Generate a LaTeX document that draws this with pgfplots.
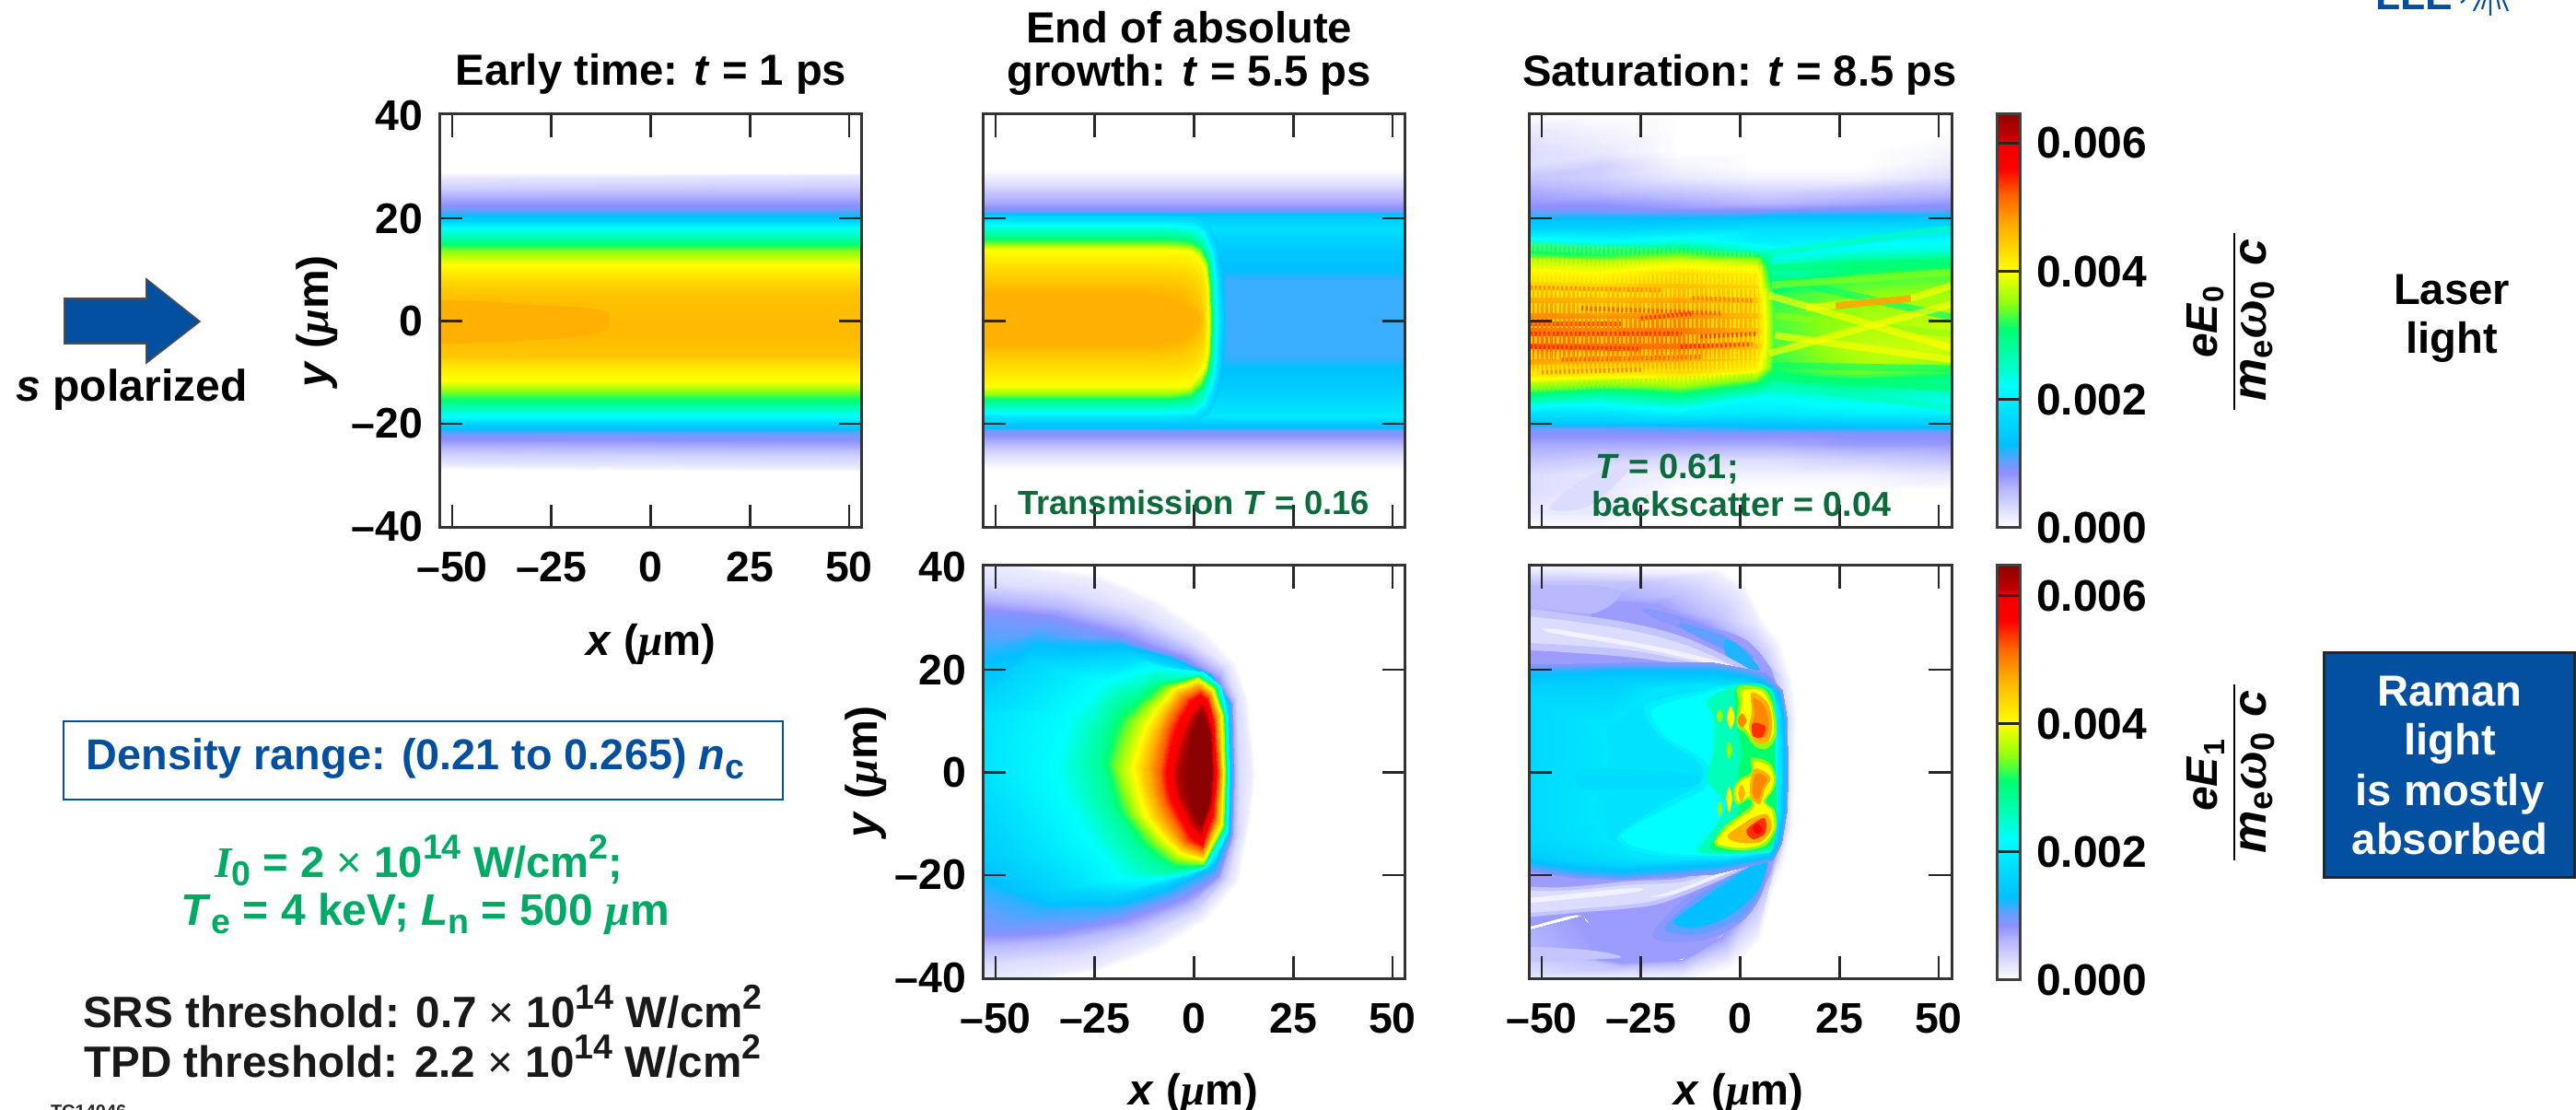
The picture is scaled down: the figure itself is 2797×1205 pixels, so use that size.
\documentclass[border=0pt]{standalone}
\usepackage{fontspec}
\setmainfont{Liberation Sans}
\newfontfamily\gk{Liberation Serif}
\usepackage{pgfplots}
\pgfplotsset{compat=1.18}
\newcommand{\fs}[1]{\bfseries\fontsize{#1}{#1}\selectfont}
\newcommand{\um}{{\gk\bfseries\itshape μ}m}
\newcommand{\sps}[1]{\raisebox{.42em}{\fontsize{9.4}{9}\selectfont #1}}
\newcommand{\sbs}[1]{\raisebox{-.2em}{\fontsize{9.4}{9}\selectfont #1}}
\definecolor{c1}{HTML}{F2F2FF}\definecolor{c3}{HTML}{DCDCFF}\definecolor{c5}{HTML}{C4C4FF}
\definecolor{c6}{HTML}{B8B8FF}\definecolor{c8}{HTML}{9C9CFF}\definecolor{c9}{HTML}{8898FF}
\definecolor{c10}{HTML}{60A0FF}\definecolor{c12}{HTML}{20B4FF}\definecolor{c13}{HTML}{00C0FF}
\definecolor{c16}{HTML}{00D4FF}\definecolor{c18}{HTML}{00DCFF}\definecolor{c19}{HTML}{00E4FF}\definecolor{c20}{HTML}{00F0FF}\definecolor{c22}{HTML}{00FFFF}
\definecolor{c26}{HTML}{00FFB8}\definecolor{c28}{HTML}{00FF98}\definecolor{c31}{HTML}{00FF70}
\definecolor{c35}{HTML}{90FF10}\definecolor{c40}{HTML}{FFFF00}\definecolor{c43}{HTML}{FFE000}
\definecolor{c45}{HTML}{FFC800}\definecolor{c47}{HTML}{FFB000}\definecolor{c50}{HTML}{FF8800}
\definecolor{c52}{HTML}{FF6000}\definecolor{c54}{HTML}{FF3000}\definecolor{c57}{HTML}{FF0000}
\definecolor{c62}{HTML}{BB0000}\definecolor{c65}{HTML}{8B0000}
\definecolor{lleblue}{HTML}{0450A0}\definecolor{dkgreen}{HTML}{0B6B3A}\definecolor{grn}{HTML}{00A964}
\pgfplotsset{
 colormap={lle}{rgb255(0pt)=(255,255,255);rgb255(30pt)=(220,220,255);rgb255(60pt)=(184,184,255);
 rgb255(85pt)=(144,144,255);rgb255(105pt)=(96,160,255);rgb255(130pt)=(0,192,255);rgb255(180pt)=(0,224,255);
 rgb255(220pt)=(0,255,255);rgb255(260pt)=(0,255,184);rgb255(310pt)=(0,255,112);rgb255(350pt)=(144,255,16);
 rgb255(400pt)=(255,255,0);rgb255(470pt)=(255,176,0);rgb255(520pt)=(255,96,0);rgb255(560pt)=(255,0,0);
 rgb255(600pt)=(240,0,0);rgb255(610pt)=(192,0,0);rgb255(650pt)=(139,0,0)},
 colormap name=lle,
 panel/.style={scale only axis,width=114.75pt,height=112.25pt,anchor=south west,
  xmin=-53.25,xmax=53.25,ymin=-40.3,ymax=40.3,axis on top,
  point meta min=0,point meta max=65,
  xtick={-50,-25,0,25,50},ytick={-20,0,20},extra y ticks={-40,40},
  extra y tick style={major tick length=0pt},
  tick align=inside,major tick length=6.3pt,
  tick style={color=black!85,line width=.7pt},
  axis line style={color=black!80,line width=.75pt},
  tick label style={font=\fs{11.6}},
  xticklabel style={yshift=-3pt},yticklabel style={xshift=-1pt}},
 noxl/.style={xticklabels={}},noyl/.style={yticklabels={},extra y tick labels={}},
 xl/.style={xticklabels={–50,–25,0,25,50}},yl/.style={yticklabels={–20,0,20},extra y tick labels={–40,40}},
 base/.style={surf,shader=interp,point meta=explicit,mesh/cols=#1,forget plot},
 cbar/.style={scale only axis,width=6.25pt,anchor=south west,xmin=0,xmax=1,ymin=0,
  point meta min=0,point meta max=65,axis on top,xtick=\empty,
  ytick={0,20,40,60},yticklabels={0.000,0.002,0.004,0.006},ytick pos=right,yticklabel pos=right,
  tick align=inside,major tick length=6.25pt,tick style={color=black!85,line width=.7pt},
  axis line style={color=black!75,line width=.75pt},
  tick label style={font=\fs{12}},yticklabel style={xshift=1pt}}}
\newcommand{\blob}[2]{\addplot[draw=none,fill=#1,smooth cycle,tension=0.55,forget plot] coordinates {#2};}
\newcommand{\poly}[2]{\addplot[draw=none,fill=#1,forget plot] coordinates {#2} --cycle;}
\newcommand{\beam}[2]{\addplot[draw=#1,line width=1.9pt,opacity=.65,forget plot] coordinates {#2};}
\newcommand{\rip}[3]{\addplot[draw=#1,line width=#2,opacity=.6,dash pattern=on .55pt off .65pt,forget plot] coordinates {#3};}
\begin{document}
\begin{tikzpicture}[x=0.25pt,y=-0.25pt]
\useasboundingbox (0,0) rectangle (2797,1205);
% ---------- panel 1
\begin{axis}[panel,xl,yl,at={(119.25pt,-143.25pt)}]
\addplot[base=2] table[meta index=2] {
-54 40.3 0
54 40.3 0
-54 29 0
54 29 0
-54 28 2
54 28.4 2
-54 26 4
54 26.3 4
-54 24.7 6
54 24.9 6
-54 23 8
54 23 8
-54 22 9.5
54 22 9.5
-54 21 12
54 21 12
-54 20.6 13
54 20.6 13
-54 19.5 16
54 19.5 16
-54 18.2 22
54 18.2 22
-54 16.5 26
54 16.5 26
-54 14.9 31
54 14.9 31
-54 13.5 35
54 13.5 35
-54 11.1 40
54 11.1 40
-54 9 42
54 9 42
-54 7 44
54 7 44
-54 5 45.5
54 5 45.5
-54 0 46
54 0 46
-54 -3 46
54 -3 46
-54 -7 45
54 -7 45
-54 -8.2 43
54 -8.2 43
-54 -10 41
54 -10 41
-54 -11.5 40
54 -11.5 40
-54 -12.8 37
54 -12.8 37
-54 -14 34
54 -14 34
-54 -15.3 31
54 -15.3 31
-54 -17 26
54 -17 26
-54 -18.5 22
54 -18.5 22
-54 -20 16
54 -20 16
-54 -21 13
54 -21 13
-54 -22 10
54 -22 10
-54 -23 8.5
54 -23.2 8.5
-54 -24.7 6
54 -25 6
-54 -26 4
54 -26.3 4
-54 -28 2
54 -28.4 2
-54 -29 0
54 -29.4 0
-54 -40.3 0
54 -40.3 0
};
\blob{c47}{(-60,3.7)(-25,3)(-12,2)(-10.5,0)(-12,-2)(-25,-3.5)(-60,-4)}
\end{axis}
% ---------- panel 2
\begin{axis}[panel,noxl,noyl,at={(266.75pt,-143.25pt)}]
\addplot[base=2] table[meta index=2] {
-54 40.3 0
54 40.3 0
-54 29.5 0
54 29.5 0
-54 28.7 1
54 28.7 1
-54 26.5 3
54 26.5 3
-54 25 5
54 25 5
-54 23 7
54 23 7
-54 21.8 9
54 21.8 9
-54 21.4 10
54 21.4 10
-54 21 13
54 21 13
-54 19.5 16
54 19.5 16
-54 18 18
54 18 18
-54 16 16
54 16 16
-54 14 14
54 14 14
-54 10 13
54 10 13
-54 8 11.5
54 8 11.5
-54 0 11.5
54 0 11.5
-54 -7 11.5
54 -7 11.5
-54 -9 13
54 -9 13
-54 -13 15
54 -13 15
-54 -16 17.5
54 -16 17.5
-54 -18.5 19
54 -18.5 19
-54 -19.5 16
54 -19.5 16
-54 -20.7 13
54 -20.7 13
-54 -21.2 10
54 -21.2 10
-54 -22 9
54 -22 9
-54 -24 6
54 -24 6
-54 -26 3
54 -26 3
-54 -28 1
54 -28 1
-54 -29 0
54 -29 0
-54 -40.3 0
54 -40.3 0
};
\poly{c47}{(-56,8.5)(-8,8.5)(-3,8)(0,6.5)(1.6,4)(2.1,2)(2.4,0)(2.1,-1.5)(2,-3)(0,-5.5)(-3,-6.5)(-8,-7)(-56,-7)}
\addplot[base=13] table[meta index=2] {
-56 20.6 16
-8 20.6 16
0 20.3 16
3.5 19 16
6 15 14
7.5 8 12
8 0 12
7.5 -8 12
6 -14 14
3.5 -18 16
0 -19.5 16
-8 -19.6 16
-56 -19.6 16
-56 19.7 18
-8 19.7 18
0 19.4 18
3 18 18
5 14 18
6 8 18
6.4 0 18
6 -8 18
5 -13 18
3 -17 18
0 -18.6 18
-8 -18.7 18
-56 -18.7 18
-56 18.8 22
-8 18.8 22
0 18.4 22
2.5 17 22
4.6 13 22
5.4 7 22
5.6 0 22
5.4 -7 22
4.6 -12 22
2.5 -16 22
0 -17.7 22
-8 -17.8 22
-56 -17.8 22
-56 16.8 28
-6 16.8 28
-1 16.4 28
2 15 28
3.8 12 28
4.5 6 28
4.7 0 28
4.5 -6 28
3.8 -10 28
2 -13.5 28
-1 -15.5 28
-6 -15.8 28
-56 -15.8 28
-56 15 35
-6 15 35
-1 14.6 35
1.5 13.5 35
3.2 11 35
3.9 6 35
4 0 35
3.9 -6 35
3.2 -9.5 35
1.5 -12 35
-1 -13.8 35
-6 -14.2 35
-56 -14.2 35
-56 14 40
-6 14 40
-1 13.6 40
1 12.5 40
2.8 10 40
3.4 6 40
3.5 0 40
3.4 -5 40
2.8 -8.5 40
1 -10.5 40
-1 -12.4 40
-6 -12.6 40
-56 -12.6 40
-56 11 42.5
-6 11 42.5
-1 10.5 42.5
1.5 9 42.5
2.6 6 42.5
2.9 3 42.5
3 0 42.5
2.9 -2.5 42.5
2.6 -5 42.5
1.5 -7.5 42.5
-1 -9 42.5
-6 -9.6 42.5
-56 -9.6 42.5
-56 8.5 44.5
-8 8.5 44.5
-3 8 44.5
0 6.5 44.5
1.6 4 44.5
2.1 2 44.5
2.4 0 44.5
2.1 -1.5 44.5
2 -3 44.5
0 -5.5 44.5
-3 -6.5 44.5
-8 -7 44.5
-56 -7 44.5
-56 5 47
-12 5 47
-5 4 47
-2 2.5 47
0 1.5 47
.7 .8 47
1 0 47
.7 -.8 47
0 -1.5 47
-2 -2.5 47
-5 -3.5 47
-12 -4.5 47
-56 -4.5 47
};
\end{axis}
% ---------- panel 3
\begin{axis}[panel,noxl,noyl,at={(415pt,-143.25pt)}]
\addplot[base=7] table[meta index=2] {
-54 40.3 0
-35 40.3 0
-15 40.3 0
4 40.3 0
8.5 40.3 0
30 40.3 0
54 40.3 0
-54 37 2
-35 37 1
-15 37 0
4 37 0
8.5 37 0
30 37 0
54 37 0
-54 33 3
-35 33 2
-15 33 0
4 33 0
8.5 33 0
30 33 0
54 33 1
-54 30 3
-35 30 4
-15 30 1
4 30 0
8.5 30 0
30 30 0
54 30 2
-54 28 5
-35 28 4
-15 28 2
4 28 1
8.5 28 1
30 28 1
54 28 3
-54 25 7
-35 25 6
-15 25 5
4 25 4
8.5 25 4
30 25 5
54 25 6
-54 23 8
-35 23 8
-15 23 7
4 23 6
8.5 23 6
30 23 7
54 23 8
-54 22 9
-35 22 9
-15 22 8
4 22 8
8.5 22 8
30 22 9
54 22 9
-54 21 11
-35 21 11
-15 21 11
4 21 11
8.5 21 12
30 21 12
54 21 12
-54 20 13
-35 20 13
-15 20 13
4 20 14
8.5 20 14
30 20 14
54 20 14
-54 18 16
-35 18 16
-15 18 17
4 18 18
8.5 18 18
30 18 18
54 18 18
-54 15.5 24
-35 15.5 22
-15 15.5 24
4 15.5 20
8.5 15.5 20
30 15.5 21
54 15.5 22
-54 14 30
-35 14 28
-15 14 30
4 14 24
8.5 14 22
30 14 23
54 14 24
-54 12 36
-35 12 35
-15 12 38
4 12 36
8.5 12 24
30 12 28
54 12 30
-54 9 42
-35 9 41
-15 9 44
4 9 42
8.5 9 27
30 9 32
54 9 33
-54 5 47
-35 5 46
-15 5 47
4 5 45
8.5 5 32
30 5 35
54 5 36
-54 0 50
-35 0 49
-15 0 50
4 0 46
8.5 0 33
30 0 36
54 0 37
-54 -5 52
-35 -5 51
-15 -5 51
4 -5 46
8.5 -5 33
30 -5 37
54 -5 38
-54 -9 46
-35 -9 46
-15 -9 46
4 -9 42
8.5 -9 32
30 -9 36
54 -9 34
-54 -12 38
-35 -12 36
-15 -12 38
4 -12 32
8.5 -12 28
30 -12 30
54 -12 28
-54 -15 28
-35 -15 25
-15 -15 28
4 -15 22
8.5 -15 22
30 -15 24
54 -15 24
-54 -18 18
-35 -18 18
-15 -18 20
4 -18 19
8.5 -18 19
30 -18 20
54 -18 20
-54 -20 14
-35 -20 14
-15 -20 14
4 -20 14
8.5 -20 14
30 -20 15
54 -20 15
-54 -21 10
-35 -21 10
-15 -21 11
4 -21 12
8.5 -21 12
30 -21 12
54 -21 12
-54 -22 9
-35 -22 9
-15 -22 9
4 -22 9
8.5 -22 9
30 -22 9
54 -22 9
-54 -24 7
-35 -24 7
-15 -24 7
4 -24 7
8.5 -24 7
30 -24 8
54 -24 8
-54 -27 5
-35 -27 4
-15 -27 3
4 -27 3
8.5 -27 3
30 -27 4
54 -27 5
-54 -30 3
-35 -30 2
-15 -30 1
4 -30 1
8.5 -30 1
30 -30 1
54 -30 2
-54 -33 3
-35 -33 2
-15 -33 0
4 -33 0
8.5 -33 0
30 -33 0
54 -33 0
-54 -37 2
-35 -37 2
-15 -37 0
4 -37 0
8.5 -37 0
30 -37 0
54 -37 0
-54 -40.3 0
-35 -40.3 0
-15 -40.3 0
4 -40.3 0
8.5 -40.3 0
30 -40.3 0
54 -40.3 0
};
\blob{c3}{(-48,-36.5)(-40,-31)(-30,-27.5)(-28,-29)(-38,-36)}
\beam{c26}{(5,13)(53,18)}
\beam{c26}{(8,-12.3)(53,-17)}
\beam{c31}{(8,10.4)(53,11.6)}
\beam{c31}{(7.3,8.6)(53,0.8)}
\beam{c31}{(8,-8.7)(53,-9.3)}
\beam{c31}{(8,-11)(53,-13)}
\beam{c35}{(8,7)(53,9.5)}
\beam{c35}{(9,1)(53,-2.5)}
\beam{c40}{(7.3,5)(53,-5.2)}
\beam{c40}{(16.6,2.6)(42.9,4.4)(53,6.8)}
\beam{c40}{(7.3,-6.3)(53,3.2)}
\beam{c40}{(8.8,-2.8)(53,-7.5)}
\beam{c50}{(24,3)(43,4.4)}
\rip{c35}{2.4pt}{(-54,14.5)(4,12.5)}
\rip{c40}{2.6pt}{(-54,11.5)(6,10)}
\rip{c40}{2.6pt}{(-54,8.5)(6,8)}
\rip{c40}{2.6pt}{(-54,5.5)(7,5.5)}
\rip{c40}{2.6pt}{(-54,2.5)(7,2.5)}
\rip{c40}{2.6pt}{(-54,-.5)(7,-.5)}
\rip{c40}{2.6pt}{(-54,-3.5)(7,-3.5)}
\rip{c40}{2.6pt}{(-54,-6.5)(7,-6.5)}
\rip{c40}{2.6pt}{(-54,-9.5)(6,-8.5)}
\rip{c35}{2.4pt}{(-54,-13)(4,-11)}
\rip{c52}{1.2pt}{(-54,6.5)(-20,6)}
\rip{c52}{1.2pt}{(-12,4.5)(3,4)}
\rip{c54}{1.2pt}{(-40,2.5)(-5,1.5)}
\rip{c57}{1.2pt}{(-54,-.5)(-30,-.5)}
\rip{c57}{1.2pt}{(-25,.5)(-12,1.5)}
\rip{c57}{1.2pt}{(-54,-2.5)(-15,-2.5)}
\rip{c57}{1.2pt}{(-10,-3)(4,-2.5)}
\rip{c57}{1.2pt}{(-54,-5)(-25,-5.5)}
\rip{c57}{1.2pt}{(-15,-5)(3,-4.5)}
\rip{c54}{1.2pt}{(-45,-7.5)(-10,-7)}
\rip{c52}{1.2pt}{(-50,-10)(-25,-9.5)}
\end{axis}
% ---------- panel 4
\begin{axis}[panel,xl,yl,at={(266.75pt,-265.75pt)}]
\poly{c65}{(-4.8,.3)(-2.7,6.6)(-.4,10.8)(1.9,13)(4.3,8)(4.8,0)(4.2,-6)(1.6,-11.7)(-.9,-9.6)(-3.9,-4.6)}
\addplot[base=17] table[meta index=2] {
-65 0 0
-65 43 0
-50 41.5 0
-23.5 38.6 0
-9 33.7 0
3.5 27.2 0
10.5 21.5 0
13.5 14.8 0
15.4 0 0
14.3 -9.2 0
11.3 -21.3 0
3.3 -28.8 0
-9 -34.5 0
-23.5 -38.7 0
-46 -41.4 0
-65 -43 0
-65 0 0
-65 0 1.5
-65 42 1.5
-50.9 40.5 1.5
-24.3 37.6 1.5
-10.1 32.7 1.5
2.3 26.3 1.5
9.4 20.7 1.5
12.6 14.4 1.5
14.4 0 1.5
13.3 -8.9 1.5
10.3 -20.8 1.5
2.3 -27.9 1.5
-10.1 -33.5 1.5
-24.3 -37.7 1.5
-47.3 -40.4 1.5
-65 -42 1.5
-65 0 1.5
-65 0 3
-65 37 3
-53 36.9 3
-33 35.5 3
-15.4 31.3 3
-1.2 25.6 3
7.6 20.7 3
10.8 14.4 3
11.5 0 3
11.2 -11.7 3
8.5 -20.8 3
.5 -27.2 3
-13.6 -32.1 3
-29.6 -35.6 3
-53 -37.4 3
-65 -37.5 3
-65 0 3
-65 0 6
-65 34 6
-53 34 6
-33 32.3 6
-15.4 28.5 6
-1.2 23.5 6
6.7 19.3 6
9.8 13.7 6
10.3 0 6
9.8 -12.4 6
6.7 -20.8 6
-1.2 -25.8 6
-15.4 -30 6
-33 -32.8 6
-53 -33.9 6
-65 -34 6
-65 0 6
-65 0 9
-65 31.3 9
-53 31.3 9
-36.7 30.2 9
-19 26.7 9
-3 22.1 9
5.9 17.9 9
9.4 13 9
9.8 0 9
9.4 -11.7 9
5.9 -20.1 9
-3 -24.4 9
-19 -28.6 9
-36.7 -31 9
-53 -31.4 9
-65 -31.4 9
-65 0 9
-65 0 12
-65 21 12
-53 23.5 12
-40 26 12
-19 25.3 12
-6.6 22.8 12
4.1 19.3 12
9 13.7 12
9.4 0 12
9 -11.7 12
5 -18.7 12
-6.6 -23.3 12
-19 -26.1 12
-38 -26.5 12
-53 -22.3 12
-65 -18 12
-65 0 12
-65 3 16
-65 12 16
-53 15 16
-42 21.4 16
-15.4 22.8 16
-1.2 20 16
6.7 16.5 16
8.7 10.8 16
9 0 16
8.7 -11 16
5 -17.3 16
-6.6 -21.5 16
-20.7 -24 16
-35 -23 16
-47.3 -16 16
-53 -10 16
-65 3 16
-35 1 22
-31.4 10.8 22
-26 15 22
-22.5 17.9 22
-10 20.7 22
2.3 19.6 22
6.5 17 22
8.3 11 22
8.7 0 22
8.3 -11.5 22
3 -18.5 22
-8.3 -20.8 22
-19 -20.5 22
-24 -15.5 22
-27.8 -11.7 22
-33 -4.6 22
-35 1 22
-24.3 2.4 28
-22.5 8 28
-20.7 11.5 28
-16 14.5 28
-10 17.5 28
.5 18.9 28
5.5 17 28
7.8 11 28
8.2 0 28
7.8 -10.5 28
2.5 -18.3 28
-6 -19 28
-12 -16 28
-15 -14 28
-18 -10.5 28
-20.7 -7.5 28
-24.3 2.4 28
-19.3 1 35
-17.5 6 35
-15.4 10 35
-12 13 35
-6.5 16.8 35
.9 18.5 35
5 16.5 35
7.2 11 35
7.8 0 35
7.2 -10.5 35
2.5 -17.7 35
-4.5 -17 35
-9.5 -14 35
-12 -11.5 35
-15.4 -8.2 35
-17.5 -4 35
-19.3 1 35
-15.4 1 40
-14 5 40
-11.9 9.4 40
-9.5 12.5 40
-5 16.4 40
1 18 40
4.5 16.2 40
6.8 11 40
7.4 0 40
6.8 -10 40
2.5 -17 40
-3.5 -15.7 40
-8 -12.5 40
-10 -10.5 40
-11.9 -8.9 40
-14 -4 40
-15.4 1 40
-11.5 1 47
-10.5 4.5 47
-9.2 8 47
-7 11.5 47
-3.8 15.4 47
1.1 17.2 47
4 15.6 47
6 11 47
6.9 0 47
6 -9.5 47
2.2 -16 47
-3 -14.5 47
-6 -11.5 47
-7.8 -9.5 47
-9.2 -7.5 47
-10.7 -3.5 47
-11.5 1 47
-8.7 .3 52
-7.8 4.5 52
-6.6 8.7 52
-4.8 11.5 52
-2 14.6 52
1.4 16.1 52
3.6 14.8 52
5.3 10.5 52
6.2 0 52
5.3 -9 52
2.2 -15 52
-2 -13.5 52
-4 -10.5 52
-5.7 -8.5 52
-7.4 -6 52
-8.2 -3 52
-8.7 .3 52
-6.6 .3 57
-5.6 4 57
-4.4 8 57
-3 10.5 57
-.8 13.8 57
1.6 15 57
3.3 13.8 57
4.7 9.5 57
5.5 0 57
4.6 -8 57
2.2 -14 57
-1 -12 57
-3 -9 57
-4.3 -7 57
-5.7 -4.6 57
-6.3 -2 57
-6.6 .3 57
-4.8 .3 61
-3.8 3.5 61
-2.7 6.6 61
-1.5 9 61
-.4 10.8 61
1.9 13 61
3 12 61
4.3 8 61
4.8 0 61
4.2 -6 61
1.6 -11.7 61
-.9 -9.6 61
-2 -7.5 61
-3 -6 61
-3.9 -4.6 61
-4.5 -2 61
-4.8 .3 61
-2.1 .3 65
-1.5 3.5 65
-.7 6.6 65
.2 9 65
.8 10.5 65
1.4 11.5 65
3 9 65
4.1 6.6 65
4.4 0 65
3.7 -6 65
2.6 -8.5 65
1.6 -10.3 65
.5 -8.5 65
-.4 -6.8 65
-1.2 -4 65
-1.8 -2 65
-2.1 .3 65
};
\end{axis}
% ---------- panel 5
\begin{axis}[panel,xl,noyl,at={(415pt,-265.75pt)}]
\addplot[base=18] table[meta index=2] {
-65 41 0
-45 41 0
-18 40.5 0
-5.5 40 0
1.5 36.5 0
5.4 30.5 0
10 25.5 0
13 18 0
14.2 10.6 0
13.9 0 0
13.4 -10.8 0
11.5 -17 0
8.4 -23 0
5.3 -32.5 0
-1.8 -38 0
-14 -40.8 0
-40 -41.5 0
-65 -41.5 0
-65 39.5 1.5
-45 39.5 1.5
-18 38.9 1.5
-6.7 38.9 1.5
.3 35.6 1.5
4.2 29.6 1.5
8.8 24.8 1.5
11.9 17.6 1.5
13.1 10.4 1.5
12.7 0 1.5
12.3 -10.5 1.5
10.4 -16.5 1.5
7.3 -22.5 1.5
4.2 -31.5 1.5
-2.8 -36.9 1.5
-14.4 -39.6 1.5
-40 -40.2 1.5
-65 -40.2 1.5
-65 37 5
-40 37 5
-25 37 5
-14.4 35 5
-5 30 5
2.6 25.4 5
5.5 22.7 5
8 20 5
10.8 13.4 5
11.1 0 5
10.8 -11 5
9.5 -15.5 5
8 -19.5 5
3.4 -26.7 5
-3.6 -33.9 5
-14.4 -37.5 5
-30 -38 5
-65 -33 5
-65 24 8
-38 28 8
-37 33 8
-22 32.6 8
-9.8 29 8
1 26 8
4.5 23.5 8
7.3 20.6 8
10 13.4 8
10.4 0 8
10 -11 8
8.8 -15.5 8
7.3 -19.5 8
1.9 -26 8
-5 -32 8
-14.4 -36.3 8
-30 -36.9 8
-40 -28 8
};
\blob{c8}{(-65,24)(-38,28)(-37,33)(-22,32.6)(-9.8,29)(1,26)(7.3,20.6)(10,13.4)(10.4,0)(10,-11)(7.3,-19.5)(1.9,-26)(-5,-32)(-14.4,-36.3)(-30,-36.9)(-37.6,-35.7)(-40,-28)(-65,-27)}
\blob{c6}{(-65,36)(-40,36.5)(-30,35)(-37,31)(-50,32)(-65,32)}
\blob{c5}{(-65,-34)(-40,-34.5)(-30,-36)(-40,-36.5)(-65,-37)}
\blob{c9}{(-24.5,32)(-14.4,30.2)(-3.6,26.6)(3.4,22.4)(-3.6,23.6)(-14.4,27.8)(-22.1,30.2)}
\blob{c10}{(-14.4,29)(-3.6,26.3)(3.4,22.4)(-3.6,24)(-14.4,28)}
\blob{c12}{(-3.6,26)(1.1,23.6)(5,20)(1.1,20.6)(-3.6,23)}
\blob{c5}{(-65,32)(-53.1,31.8)(-29.9,29.4)(-14.4,26.4)(-.5,21.4)(5.5,18)(-.5,18.6)(-14.4,21)(-29.9,22.6)(-53.1,23.8)(-65,23.8)}
\blob{c3}{(-65,30.5)(-53.1,30.4)(-29.9,28)(-14.4,25)(-.5,20.4)(5,18.2)(-.5,19.3)(-14.4,21.9)(-29.9,24)(-53.1,25.2)(-65,25.2)}
\blob{c1}{(-47.7,28)(-29.9,25.8)(-14.4,23.4)(-2.8,21)(3,18.8)(-3.6,20.4)(-15.9,22.7)(-29.9,24.9)(-47.7,27.2)}
\blob{c9}{(6.5,-16)(5.7,-23.1)(.3,-29.1)(-9.8,-32.7)(-22.1,-32.1)(-14.4,-24.9)(-2.8,-19.8)}
\blob{c10}{(6.5,-16.5)(5,-23.1)(-.5,-28.5)(-10,-31.5)(-19,-30.5)(-12,-24.9)(-2.4,-20.2)}
\blob{c13}{(6.5,-17.1)(4.2,-23.1)(-2.8,-27.9)(-11.3,-30.3)(-16.7,-29.1)(-9.8,-24.9)(-2,-20.7)}
\blob{c5}{(7,-16.2)(-3.6,-17.9)(-14.4,-20.6)(-27.6,-21.2)(-45.4,-22.4)(-65,-22.4)(-65,-28.3)(-37.6,-27.1)(-22.9,-26)(-14.4,-24)(-2.8,-20.2)}
\blob{c3}{(7,-16.5)(-3.6,-18.6)(-14.4,-21.3)(-27.6,-21.9)(-45.4,-23.1)(-65,-23.1)(-65,-27.6)(-37.6,-26.4)(-22.9,-25.2)(-14.4,-23.2)(-2.8,-19.5)}
\blob{c1}{(5,-17)(-3.6,-19.3)(-15.9,-22.8)(-22.9,-24.4)(-15.9,-23.5)(-3.6,-19.8)}
\blob{c1}{(-60,-25.1)(-28,-22.6)(-28,-23.5)(-60,-25.9)}
\poly{c19}{(-65,1)(-65,16.4)(-29.9,17.9)(-6.7,18.2)(1.1,17.9)(5,17)(8,16.4)(10,11.6)(10.5,0)(10,-8.7)(8,-14.7)(2,-16.5)(-6.7,-17.1)(-29.9,-18.3)(-45.4,-17.1)(-65,-12.3)}
\addplot[base=17] table[meta index=2] {
-65 1 8.5
-65 21 8.5
-29.9 21.5 8.5
-6.7 21.5 8.5
1.1 20.4 8.5
6.3 19.4 8.5
10.5 16 8.5
11.7 10.4 8.5
12 0 8.5
11.7 -7.5 8.5
10.4 -13.7 8.5
8.3 -17.2 8.5
-6.7 -19.8 8.5
-29.9 -21 8.5
-41.5 -20.5 8.5
-65 -18 8.5
-65 1 8.5
-65 1 11
-65 19.8 11
-29.9 20.7 11
-6.7 20.7 11
1.1 19.8 11
6 18.6 11
10.2 15.7 11
11.4 10.4 11
11.7 0 11
11.4 -7.5 11
10 -13.5 11
8 -16.7 11
-6.7 -19 11
-29.9 -20.4 11
-41.5 -19.8 11
-65 -17 11
-65 1 11
-65 1 13
-65 18.8 13
-29.9 19.7 13
-6.7 19.7 13
1.1 18.8 13
5.7 17.6 13
9.6 15.2 13
10.8 10.4 13
11.1 0 13
10.8 -7.5 13
9.6 -13.5 13
7.3 -16.5 13
-6.7 -18 13
-29.9 -19.2 13
-41.5 -18.6 13
-65 -15.9 13
-65 1 13
-65 1 15.5
-65 16.4 15.5
-29.9 17.9 15.5
-6.7 18.2 15.5
1.1 17.9 15.5
5 17 15.5
8 16.4 15.5
10 11.6 15.5
10.5 0 15.5
10 -8.7 15.5
8 -14.7 15.5
2 -16.5 15.5
-6.7 -17.1 15.5
-29.9 -18.3 15.5
-45.4 -17.1 15.5
-65 -12.3 15.5
-65 1 15.5
-33 3 19
-34 9 19
-20 16.5 19
-10.5 17 19
1.1 16.9 19
5 16.5 19
7.7 15.8 19
9.6 11.6 19
10 0 19
9.6 -10.5 19
6.5 -15.6 19
0 -16.6 19
-14.4 -16.8 19
-25 -16.2 19
-33 -13.2 19
-37 -7.5 19
-33 3 19
};
\blob{c18}{(-40,.5)(-25,.5)(-15,0)(-8,-1)(-15,-3)(-30,-3.5)(-40,-3)}
\blob{c20}{(-24,13)(-9.8,15.9)(-2.8,17)(8,15.8)(9.6,0)(8.4,-14)(4.2,-16)(-6.7,-16.5)(-24,-15.8)(-31,-12.5)(-20,-6.5)(-10.5,-2.4)(-10.5,2)(-20,7)}
\blob{c22}{(-22.1,12.2)(-9.8,15.2)(-2.8,16.4)(8,15.2)(9.2,0)(8,-13.5)(4.2,-15.6)(-6.7,-16.2)(-22.1,-15.3)(-29.9,-12.3)(-18.3,-6.9)(-8.5,-2.8)(-8.5,2)(-18.3,6.8)}
\blob{c26}{(-8.2,14)(-.5,17)(8,15.8)(8.8,4.4)(8.4,-13.5)(5,-15.6)(-10.5,-15.6)(-7.4,-11.7)(-3.6,-6.3)(-8.2,-1.6)(-6.7,4.4)(-6.7,10.4)}
\blob{c31}{(-.5,16.8)(7.3,15.8)(8.8,10.4)(8.8,3.2)(9.2,-7.5)(8,-14.1)(1.1,-15.3)(-7.4,-15)(-5.1,-11.7)(-.5,-7.5)(-.5,-.4)(.3,4.4)(-1.2,10.4)}
\blob{c35}{(-.5,16.7)(5.7,16.4)(8.4,12.8)(9.1,7.4)(6.9,4.7)(3.8,5)(1.1,7.7)(-.9,9.2)(-.5,13.4)}
\blob{c40}{(.7,16)(5.5,15.8)(8,12)(8.4,7.6)(6.5,5.8)(3.6,6.4)(1.3,8.6)(-.1,10.4)(.6,14)}
\blob{c47}{(2.9,15.6)(6.9,13.6)(8,9.8)(7.2,6.2)(4,5.9)(2.2,8.6)(2.9,11.6)}
\blob{c50}{(3.2,14.5)(6,13)(7.2,9.8)(6.5,7)(4.2,7)(3,9)(3.7,11.6)}
\blob{c54}{(3.2,9.6)(6.3,9)(5.6,6.9)(3.2,7.1)}
\blob{c35}{(-5.9,11)(-5.1,12.4)(-4.3,11)(-5.1,9.6)}
\blob{c40}{(-3.4,10.7)(-2.4,12.9)(-1.4,10.7)(-2.4,8.5)}
\blob{c50}{(-.6,10.1)(.5,11.5)(1.6,10.1)(.5,8.7)}
\blob{c35}{(2.8,2.8)(7.2,2)(9,-1)(8.3,-3.4)(6.4,-5.7)(8.7,-7.5)(9,-11.1)(6.2,-14.3)(1.1,-15.2)(-3.6,-14.9)(-6.6,-13.8)(-4,-10.6)(0,-8.2)(2.8,-6.4)(2.2,-5.2)(-.9,-6.3)(-1.8,-3.4)(0,-1.2)(2.8,0)}
\blob{c40}{(3.4,2)(6.9,1.4)(8.4,-1)(7.7,-3.4)(5.7,-5.7)(8,-7.5)(8.4,-11.1)(5.7,-13.8)(1.1,-14.7)(-3.6,-14.4)(-5.9,-13.5)(-3.6,-11.1)(.3,-8.7)(3.4,-6.9)(2.6,-4.6)(-.5,-5.7)(-1.2,-3.4)(.3,-1.6)(3.4,-.4)}
\blob{c47}{(3.9,.8)(7.6,-.9)(6.1,-3.4)(5,-6.2)(2.6,-4.8)(2.6,-1.4)}
\blob{c50}{(4.4,-.2)(6.8,-1.2)(5.5,-3.4)(4.6,-5.2)(3.3,-4.4)(3.3,-1.6)}
\blob{c47}{(6.8,-8.2)(7.8,-11.1)(5,-13.6)(-.8,-13.6)(-3.2,-12.3)(.8,-10)(3.2,-8.8)}
\blob{c54}{(6,-8.9)(6.3,-11.8)(3.2,-13)(1.6,-11.2)}
\blob{c57}{(4.2,-10)(5.6,-11)(4.4,-12)(3.2,-11)}
\blob{c47}{(-.5,-4)(.3,-2.3)(1.2,-4)(.3,-5.8)}
\blob{c40}{(-3.5,-5.1)(-2.8,-2.7)(-2,-5.1)(-2.8,-7.8)}
\blob{c35}{(-5.7,-7)(-5.1,-5.5)(-4.5,-7)(-5.1,-8.6)}
\blob{c35}{(-3.5,4.4)(-2.8,6)(-2,4.4)(-2.8,2.6)}
\end{axis}
% ---------- colour bars
\begin{axis}[cbar,height=112.25pt,ymax=64.5,at={(542pt,-143.25pt)}]
\addplot[base=2] table[meta index=2] {
0 0 0
1 0 0
0 30 30
1 30 30
0 64.5 64.5
1 64.5 64.5
};
\end{axis}
\begin{axis}[cbar,height=112.5pt,ymax=64.7,at={(542pt,-266pt)}]
\addplot[base=2] table[meta index=2] {
0 0 0
1 0 0
0 30 30
1 30 30
0 64.7 64.7
1 64.7 64.7
};
\end{axis}
% ---------- text
\tikzset{every node/.style={inner sep=0pt,outer sep=0pt,align=center}}
\node[font=\fs{11.8}] at (707,80) {Early time: \textit{t} = 1 ps};
\node[font=\fs{11.8}] at (1291,30) {End of absolute};
\node[font=\fs{11.8}] at (1291,81) {growth: \textit{t} = 5.5 ps};
\node[font=\fs{11.8}] at (1889,81) {Saturation: \textit{t} = 8.5 ps};
\node[font=\fs{11.8}] at (707,699) {\textit{x} (\um)};
\node[font=\fs{11.8}] at (1296,1187) {\textit{x} (\um)};
\node[font=\fs{11.8}] at (1888,1187) {\textit{x} (\um)};
\node[font=\fs{12},rotate=90] at (344,349) {\textit{y} (\um)};
\node[font=\fs{12},rotate=90] at (940,838) {\textit{y} (\um)};
\node[font=\fs{12}] at (143,423) {\textit{s} polarized};
\draw[fill=lleblue,draw=black!70,line width=.4pt] (70,324)--(159,324)--(159,303)--(217,349)--(159,394)--(159,373)--(70,373)--cycle;
\draw[draw=lleblue,line width=.6pt] (69,783) rectangle (850,868);
\node[font=\fs{11.7},text=lleblue] at (451,824) {Density range: (0.21 to 0.265) \textit{n}\sbs{c}};
\node[font=\fs{11.8},text=grn] at (455,934) {{\gk\bfseries\itshape I}\sbs{0} = 2 {\mdseries ×} 10\sps{14} W/cm\sps{2};};
\node[font=\fs{12},text=grn] at (462,992) {\textit{T}\sbs{e} = 4 keV; \textit{L}\sbs{n} = 500 {\gk\bfseries\itshape μ}m};
\node[font=\fs{11.9},text=black!90] at (459,1093) {SRS threshold: 0.7 {\mdseries ×} 10\sps{14} W/cm\sps{2}};
\node[font=\fs{11.9},text=black!90] at (459,1147) {TPD threshold: 2.2 {\mdseries ×} 10\sps{14} W/cm\sps{2}};
\node[font=\fs{5},anchor=base west,text=black!85] at (55,1214) {TC14046};
\node[font=\fs{9.1},text=dkgreen] at (1296,546) {Transmission \textit{T} = 0.16};
\node[font=\fs{9.5},text=dkgreen,anchor=west] at (1732,509) {\textit{T} = 0.61;};
\node[font=\fs{9.4},text=dkgreen,anchor=west] at (1728,547) {backscatter = 0.04};
\node[font=\fs{12},rotate=90] at (2395,349) {\textit{eE}\textsubscript{0}};
\draw[line width=.6pt] (2426,253)--(2426,445);
\node[font=\fs{13},rotate=90] at (2451,348) {\textit{m}\textsubscript{e}{\gk\bfseries\itshape\fontsize{14.5}{14}\selectfont ω}\textsubscript{0} \textit{c}};
\node[font=\fs{12},rotate=90] at (2395,841) {\textit{eE}\textsubscript{1}};
\draw[line width=.6pt] (2426,743)--(2426,934);
\node[font=\fs{13},rotate=90] at (2451,838) {\textit{m}\textsubscript{e}{\gk\bfseries\itshape\fontsize{14.5}{14}\selectfont ω}\textsubscript{0} \textit{c}};
\node[font=\fs{11.8},anchor=base] at (2662,331) {Laser};
\node[font=\fs{11.8},anchor=base] at (2662,384) {light};
\draw[fill=lleblue,draw=black!85,line width=.75pt] (2523,709) rectangle (2795,953);
\node[font=\fs{11.8},text=white,anchor=base] at (2660,767) {Raman};
\node[font=\fs{11.8},text=white,anchor=base] at (2660,820) {light};
\node[font=\fs{11.8},text=white,anchor=base] at (2660,875) {is mostly};
\node[font=\fs{11.8},text=white,anchor=base] at (2660,928) {absorbed};
\node[font=\fs{11.1},text=lleblue,anchor=base west] at (2579,11) {LLE};
\draw[lleblue,line width=.55pt] (2704,0)--(2704,17) (2692,0)--(2686,12) (2698,0)--(2695,10) (2712,0)--(2714,10) (2718,0)--(2723,12) (2676,0)--(2672,3);
\end{tikzpicture}
\end{document}
